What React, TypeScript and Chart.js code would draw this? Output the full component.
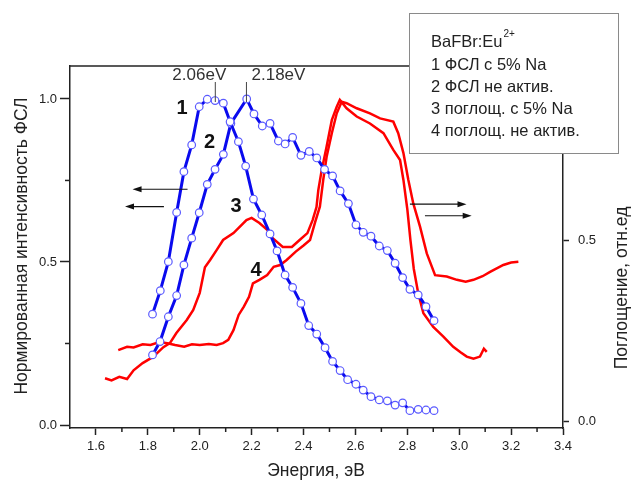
import React, { useEffect, useRef } from "react";
import { Chart, registerables } from "chart.js";
Chart.register(...registerables);

// ---- data ----
// Curve 1: ФСЛ с 5% Na (left axis)
const e1 = [1.818,1.848,1.879,1.911,1.939,1.969,1.998,2.029,2.059,2.091,2.117,2.149,2.177,2.207,2.239,2.271,2.298,2.329,2.358,2.390,2.420,2.451,2.483,2.512,2.541,2.570,2.602,2.630,2.660,2.692,2.723,2.753,2.782,2.810,2.842,2.872,2.903];
const v1 = [0.340,0.412,0.501,0.652,0.777,0.859,0.976,0.999,0.995,0.987,0.930,0.869,0.794,0.693,0.644,0.586,0.534,0.460,0.422,0.373,0.305,0.279,0.237,0.195,0.167,0.139,0.125,0.107,0.087,0.077,0.074,0.061,0.068,0.044,0.048,0.046,0.044];
// Curve 2: ФСЛ не актив. (left axis)
const e2 = [1.818,1.847,1.879,1.911,1.939,1.969,1.998,2.029,2.059,2.091,2.120,2.181,2.209,2.241,2.271,2.303,2.329,2.358,2.390,2.422,2.451,2.481,2.512,2.541,2.573,2.602,2.630,2.660,2.692,2.723,2.753,2.782,2.810,2.842,2.872,2.903];
const v2 = [0.215,0.256,0.332,0.397,0.491,0.573,0.651,0.738,0.784,0.830,0.925,1.000,0.954,0.917,0.925,0.871,0.862,0.882,0.827,0.839,0.819,0.784,0.764,0.718,0.679,0.614,0.591,0.579,0.549,0.535,0.496,0.452,0.416,0.399,0.363,0.320];
// Curve 3: поглощ. с 5% Na (right axis)
const e3 = [1.635,1.66,1.69,1.72,1.745,1.78,1.82,1.86,1.885,1.91,1.95,1.975,2.00,2.02,2.04,2.065,2.09,2.13,2.18,2.20,2.23,2.26,2.28,2.32,2.355,2.385,2.415,2.435,2.45,2.457,2.47,2.489,2.509,2.528,2.54,2.566,2.605,2.656,2.708,2.746,2.772,2.785,2.800,2.812,2.825,2.842,2.862,2.900,2.939,2.977,3.005,3.029,3.055,3.080,3.095,3.106];
const v3 = [0.118,0.112,0.122,0.116,0.140,0.160,0.177,0.204,0.215,0.243,0.279,0.307,0.354,0.425,0.445,0.472,0.500,0.519,0.555,0.561,0.547,0.528,0.506,0.481,0.481,0.500,0.519,0.555,0.591,0.638,0.693,0.758,0.831,0.868,0.887,0.864,0.841,0.822,0.795,0.749,0.721,0.666,0.585,0.500,0.420,0.353,0.298,0.260,0.233,0.205,0.190,0.178,0.172,0.178,0.200,0.191];
// Curve 4: поглощ. не актив. (right axis)
const e4 = [1.686,1.72,1.745,1.78,1.81,1.845,1.875,1.905,1.94,1.97,2.00,2.035,2.065,2.09,2.11,2.13,2.15,2.17,2.19,2.205,2.23,2.26,2.285,2.31,2.335,2.37,2.40,2.425,2.445,2.463,2.476,2.489,2.509,2.528,2.547,2.566,2.605,2.656,2.695,2.746,2.765,2.785,2.804,2.823,2.849,2.875,2.907,2.952,2.991,3.025,3.055,3.090,3.119,3.170,3.200,3.228];
const v4 = [0.196,0.205,0.203,0.212,0.210,0.218,0.215,0.210,0.205,0.212,0.210,0.213,0.210,0.215,0.224,0.251,0.293,0.316,0.343,0.380,0.390,0.403,0.426,0.431,0.445,0.468,0.485,0.500,0.550,0.592,0.666,0.730,0.795,0.850,0.882,0.878,0.864,0.850,0.836,0.827,0.795,0.740,0.666,0.601,0.537,0.463,0.403,0.399,0.390,0.385,0.390,0.400,0.412,0.431,0.438,0.440];

const xTicks = [1.6,1.8,2.0,2.2,2.4,2.6,2.8,3.0,3.2,3.4];
const xMinorTicks = [1.7,1.9,2.1,2.3,2.5,2.7,2.9,3.1,3.3];
const yLeftTicks = [0,0.5,1.0];
const yLeftMinor = [0.25,0.75];
const yRightTicks = [0,0.5];

const legendLines = ["1 ФСЛ с 5% Na","2 ФСЛ не актив.","3 поглощ. с 5% Na","4 поглощ. не актив."];
const peakLabels = [{ text: "2.06eV", e: 2.06, dx: -16 }, { text: "2.18eV", e: 2.18, dx: 32 }];
const curveLabels = [
  { text: "1", e: 1.932, v: 0.972 },
  { text: "2", e: 2.038, v: 0.866 },
  { text: "3", e: 2.140, v: 0.670 },
  { text: "4", e: 2.217, v: 0.474 },
];
// arrows: [fromE, toE, value, axis]
const arrows = [
  { from: 1.953, to: 1.741, v: 0.723, axis: "y" },
  { from: 1.862, to: 1.712, v: 0.670, axis: "y" },
  { from: 2.810, to: 3.028, v: 0.599, axis: "y1" },
  { from: 2.868, to: 3.048, v: 0.567, axis: "y1" },
];

const FONT = "'Liberation Sans', Arial, sans-serif";
const INK = "#222";

const zip = (xs: number[], ys: number[]) => xs.map((x, i) => ({ x, y: ys[i] }));

const decor = {
  id: "decor",
  afterDraw(chart: any) {
    const { ctx, chartArea: ca, scales } = chart;
    const sx = scales.x, sy = scales.y, sy1 = scales.y1;
    const line = (x1: number, y1: number, x2: number, y2: number) => {
      ctx.beginPath(); ctx.moveTo(x1, y1); ctx.lineTo(x2, y2); ctx.stroke();
    };
    ctx.save();
    ctx.strokeStyle = INK;
    ctx.lineWidth = 1.5;
    // top frame
    line(ca.left, ca.top, ca.right, ca.top);
    // minor ticks
    for (const v of xMinorTicks) { const p = sx.getPixelForValue(v); line(p, ca.bottom, p, ca.bottom + 4); }
    for (const v of yLeftMinor) { const p = sy.getPixelForValue(v); line(ca.left - 5, p, ca.left, p); }

    // peak labels
    ctx.fillStyle = "#333";
    ctx.font = `17px ${FONT}`;
    ctx.textAlign = "center";
    ctx.textBaseline = "middle";
    ctx.lineWidth = 1;
    ctx.strokeStyle = "#444";
    for (const pl of peakLabels) {
      const p = sx.getPixelForValue(pl.e);
      ctx.fillText(pl.text, p + pl.dx, ca.top + 9);
      line(p, ca.top + 16, p, ca.top + 36);
    }
    // curve number labels
    ctx.fillStyle = "#111";
    ctx.font = `bold 20px ${FONT}`;
    for (const cl of curveLabels) {
      ctx.fillText(cl.text, sx.getPixelForValue(cl.e), sy.getPixelForValue(cl.v));
    }
    // arrows
    ctx.strokeStyle = "#111";
    ctx.fillStyle = "#111";
    ctx.lineWidth = 1.2;
    for (const a of arrows) {
      const scale = a.axis === "y" ? sy : sy1;
      const yy = scale.getPixelForValue(a.v);
      const x1 = sx.getPixelForValue(a.from), x2 = sx.getPixelForValue(a.to);
      const dir = Math.sign(x2 - x1);
      line(x1, yy, x2 - dir * 6, yy);
      ctx.beginPath();
      ctx.moveTo(x2, yy);
      ctx.lineTo(x2 - dir * 9, yy - 3);
      ctx.lineTo(x2 - dir * 9, yy + 3);
      ctx.closePath();
      ctx.fill();
    }

    // axis titles
    ctx.fillStyle = INK;
    ctx.font = `17.5px ${FONT}`;
    ctx.textAlign = "center";
    ctx.textBaseline = "middle";
    ctx.fillText("Энергия, эВ", 316, 471);
    ctx.save();
    ctx.translate(22, 246);
    ctx.rotate(-Math.PI / 2);
    ctx.fillText("Нормированная интенсивность ФСЛ", 0, 0);
    ctx.restore();
    ctx.save();
    ctx.translate(622, 288);
    ctx.rotate(-Math.PI / 2);
    ctx.fillText("Поглощение, отн.ед", 0, 0);
    ctx.restore();

    // legend box
    ctx.fillStyle = "#fff";
    ctx.fillRect(409.5, 13.5, 209, 140);
    ctx.strokeStyle = "#8a8a8a";
    ctx.lineWidth = 1;
    ctx.strokeRect(409.5, 13.5, 209, 140);
    ctx.fillStyle = INK;
    ctx.textAlign = "left";
    ctx.textBaseline = "alphabetic";
    ctx.font = `16.5px ${FONT}`;
    ctx.fillText("BaFBr:Eu", 431, 47);
    const w = ctx.measureText("BaFBr:Eu").width;
    ctx.font = `10px ${FONT}`;
    ctx.fillText("2+", 431 + w + 1, 37);
    ctx.font = `16.5px ${FONT}`;
    legendLines.forEach((t, i) => ctx.fillText(t, 431, 69.5 + i * 22));
    ctx.restore();
  },
};

export default function App() {
  const ref = useRef<HTMLCanvasElement>(null);
  useEffect(() => {
    if (!ref.current) return;
    Chart.defaults.font.family = FONT;
    const tickFont = { family: FONT, size: 13 };
    const chart = new Chart(ref.current, {
      type: "line",
      data: {
        datasets: [
          { label: "1", data: zip(e1, v1), yAxisID: "y", borderColor: "#0a0aee", borderWidth: 3, pointRadius: 3.8, pointBorderWidth: 1.2, pointBackgroundColor: "#fff", pointBorderColor: "#5b5bff", tension: 0, order: 0 },
          { label: "2", data: zip(e2, v2), yAxisID: "y", borderColor: "#0a0aee", borderWidth: 3, pointRadius: 3.8, pointBorderWidth: 1.2, pointBackgroundColor: "#fff", pointBorderColor: "#5b5bff", tension: 0, order: 0 },
          { label: "3", data: zip(e3, v3), yAxisID: "y1", borderColor: "#ff0000", borderWidth: 2.5, pointRadius: 0, tension: 0, order: 1 },
          { label: "4", data: zip(e4, v4), yAxisID: "y1", borderColor: "#ff0000", borderWidth: 2.5, pointRadius: 0, tension: 0, order: 1 },
        ],
      },
      options: {
        animation: false,
        responsive: false,
        layout: { padding: { top: 66, left: 0, right: 0, bottom: 0 } },
        plugins: { legend: { display: false }, tooltip: { enabled: false } },
        scales: {
          x: {
            type: "linear", position: "bottom", min: 1.5, max: 3.4,
            afterBuildTicks: (s: any) => { s.ticks = xTicks.map((v) => ({ value: v })); },
            afterFit: (s: any) => { s.height = 56; },
            ticks: { font: tickFont, color: INK, padding: 4, maxRotation: 0, autoSkip: false, callback: (v: any) => Number(v).toFixed(1) },
            grid: { display: true, drawOnChartArea: false, drawTicks: true, tickLength: 7, tickWidth: 1.5, tickColor: INK },
            border: { display: true, color: INK, width: 1.5 },
          },
          y: {
            type: "linear", position: "left", min: -0.0092, max: 1.101,
            afterBuildTicks: (s: any) => { s.ticks = yLeftTicks.map((v) => ({ value: v })); },
            afterFit: (s: any) => { s.width = 70; },
            ticks: { font: tickFont, color: INK, padding: 3, callback: (v: any) => Number(v).toFixed(1) },
            grid: { display: true, drawOnChartArea: false, drawTicks: true, tickLength: 10, tickWidth: 1.5, tickColor: INK },
            border: { display: true, color: INK, width: 1.5 },
          },
          y1: {
            type: "linear", position: "right", min: -0.0193, max: 0.9807,
            afterBuildTicks: (s: any) => { s.ticks = yRightTicks.map((v) => ({ value: v })); },
            afterFit: (s: any) => { s.width = 70; },
            ticks: { font: tickFont, color: INK, padding: 9, callback: (v: any) => Number(v).toFixed(1) },
            grid: { display: true, drawOnChartArea: false, drawTicks: true, tickLength: 6, tickWidth: 1.5, tickColor: INK },
            border: { display: true, color: INK, width: 1.5 },
          },
        },
      },
      plugins: [decor],
    } as any);
    return () => chart.destroy();
  }, []);
  return (
    <div style={{ position: "absolute", left: 0, top: 0, width: 633, height: 484, background: "#fff" }}>
      <canvas ref={ref} width={633} height={484} style={{ display: "block" }} />
    </div>
  );
}
